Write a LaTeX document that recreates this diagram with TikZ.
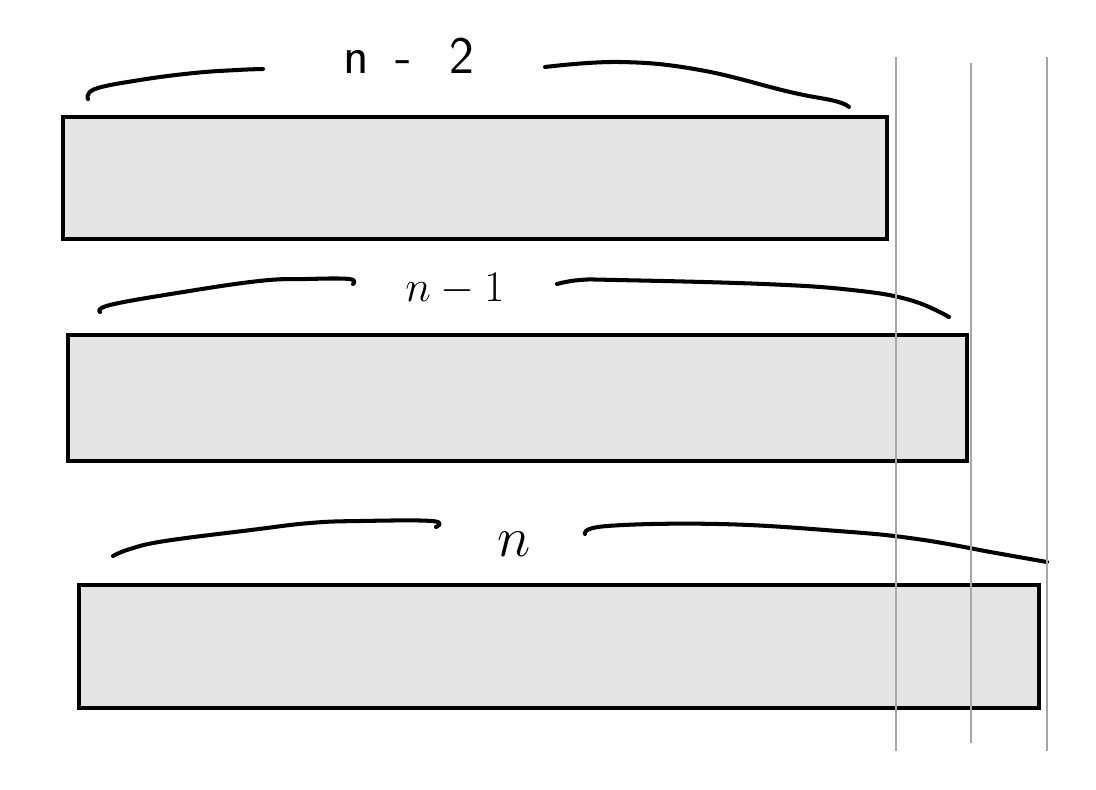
\documentclass[tikz,border=0pt]{standalone}
\usepackage{amsmath, amssymb}
\usepackage{fontspec}
\usepackage{graphicx}
\usepackage{xcolor}
\usepackage{tikz}
\usetikzlibrary{calc, positioning}

\definecolor{nenxam}{HTML}{E4E4E4}
\definecolor{vachxam}{HTML}{A6A6A6}

\begin{document}
\begin{tikzpicture}[x=0.02cm, y=-0.02cm,
    thanh/.style={draw=black, fill=nenxam, line width=2.1pt},
    ngoac/.style={line width=2.3pt, line cap=round, line join=round},
    vach/.style={draw=vachxam, line width=1.6pt},
    nhan/.style={anchor=base, inner sep=0pt, font=\Huge}]
    \useasboundingbox (0,0) rectangle (1096,789);

    % 1. Ba thanh chữ nhật tô xám
    \filldraw[thanh] (63,117) rectangle (887,239);
    \filldraw[thanh] (68,335) rectangle (967,461);
    \filldraw[thanh] (79,585) rectangle (1039,708);

    % 2. Ngoặc trên thanh thứ nhất: n - 2
    \draw[ngoac] plot[smooth, tension=0.7] coordinates
        {(88,99) (95,89) (140,80) (194,73) (237,70) (263,69)};
    \draw[ngoac] plot[smooth, tension=0.7] coordinates
        {(545,67) (620,62) (700,70) (790,92) (835,101) (849,107)};
    \node[nhan, font=\fontsize{30}{34}\selectfont] (nhanA) at (409,73)
        {\sffamily n\hspace{0.5em}-\hspace{0.7em}2};

    % 3. Ngoặc trên thanh thứ hai: n - 1
    \draw[ngoac] plot[smooth, tension=0.7] coordinates
        {(100,312) (110,305) (177,293) (259,281) (306,279) (349,279) (353,284)};
    \draw[ngoac] plot[smooth, tension=0.7] coordinates
        {(557,284) (580,280) (617,280) (764,284) (852,290) (910,300) (949,317)};
    \node[nhan] (nhanB) at (455,301) {$n-1$};

    % 4. Ngoặc trên thanh thứ ba: n
    \draw[ngoac] plot[smooth, tension=0.7] coordinates
        {(113,556) (130,549) (165,541) (251,530) (310,523) (360,521) (432,521) (436,527)};
    \draw[ngoac] plot[smooth, tension=0.7] coordinates
        {(585,534) (607,526) (719,524) (838,531) (917,539) (996,553) (1047,562)};
    \node[nhan] (nhanC) at (514,556) {\scalebox{1.3}{$n$}};

    % 5. Ba vạch đứng màu xám
    \draw[vach] (896,57) -- (896,751);
    \draw[vach] (971,63) -- (971,743);
    \draw[vach] (1047,57) -- (1047,751);
\end{tikzpicture}
\end{document}
